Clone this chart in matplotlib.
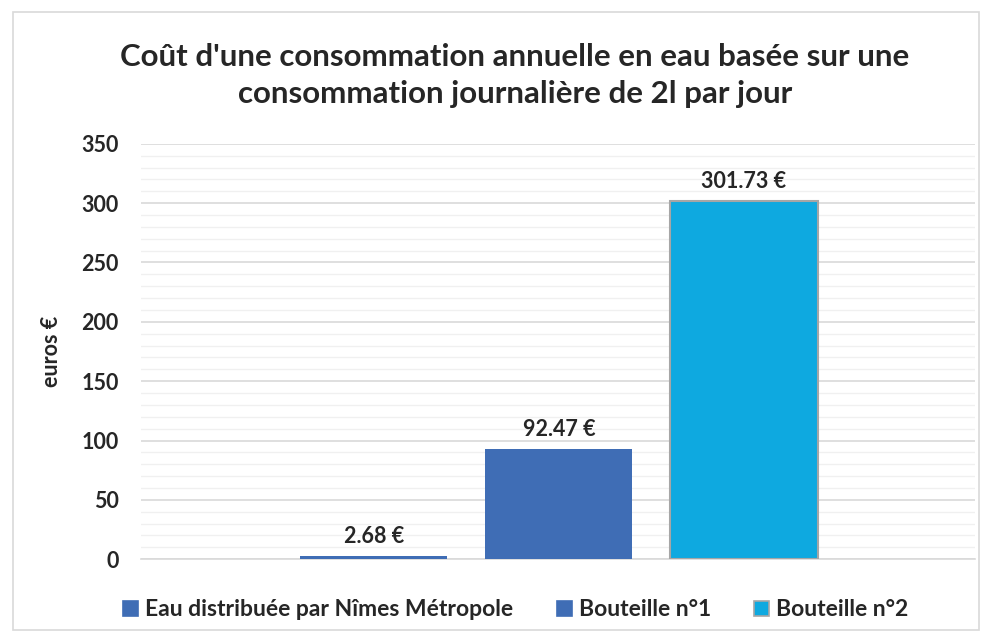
import matplotlib.pyplot as plt
from matplotlib.patches import Rectangle, Patch

# Data
series = ['Eau distribuée par Nîmes Métropole', 'Bouteille n°1', 'Bouteille n°2']
values = [2.68, 92.47, 301.73]
colors = ['#3F6DB5', '#3F6DB5', '#0EA9E0']
edges = ['none', 'none', '#A6A6A6']
positions = [-1, 0, 1]

plt.rcParams['font.family'] = ['Lato', 'DejaVu Sans']
plt.rcParams['font.weight'] = 'bold'
txt = '#262626'

fig = plt.figure(figsize=(9.92, 6.42), dpi=100)
ax = fig.add_axes([0.142, 0.129, 0.841, 0.647])

for x, v, c, e in zip(positions, values, colors, edges):
    ax.bar(x, v, width=0.795, color=c, edgecolor=e, linewidth=1.5, zorder=3)
    ax.text(x, v + 8, f'{v:.2f} €', ha='center', va='bottom',
            fontsize=15.5, fontweight='bold', color=txt)

ax.set_ylim(0, 350)
ax.set_xlim(-2.259, 2.249)
ax.set_yticks(range(0, 351, 50))
ax.set_yticks(range(0, 351, 10), minor=True)
ax.grid(axis='y', which='major', color='#D9D9D9', linewidth=1.2, zorder=0)
ax.grid(axis='y', which='minor', color='#F0F0F0', linewidth=1.0, zorder=0)
ax.set_xticks([])
ax.tick_params(axis='y', which='both', length=0, labelsize=15.5, labelcolor=txt, pad=16)
for s in ['top', 'right', 'left']:
    ax.spines[s].set_visible(False)
ax.spines['bottom'].set_color('#D9D9D9')
ax.spines['bottom'].set_linewidth(1.2)

ax.set_ylabel('euros €', fontsize=15.5, fontweight='bold', color=txt, labelpad=14)

fig.text(0.519, 0.883, "Coût d'une consommation annuelle en eau basée sur une\nconsommation journalière de 2l par jour",
         ha='center', va='center', fontsize=22.5, fontweight='bold', color=txt, linespacing=1.4)

handles = [Patch(facecolor=c, edgecolor=(e if e != 'none' else c), linewidth=1.2) for c, e in zip(colors, edges)]
fig.legend(handles, series, loc='center', bbox_to_anchor=(0.52, 0.05), ncol=3, frameon=False,
           fontsize=16.5, handlelength=0.65, handleheight=0.65, handletextpad=0.3, columnspacing=1.9,
           labelcolor=txt)

fig.patches.append(Rectangle((0.013, 0.018), 0.974, 0.964, transform=fig.transFigure,
                             fill=False, edgecolor='#D9D9D9', linewidth=1.2))

fig.savefig('out.png', dpi=100)
